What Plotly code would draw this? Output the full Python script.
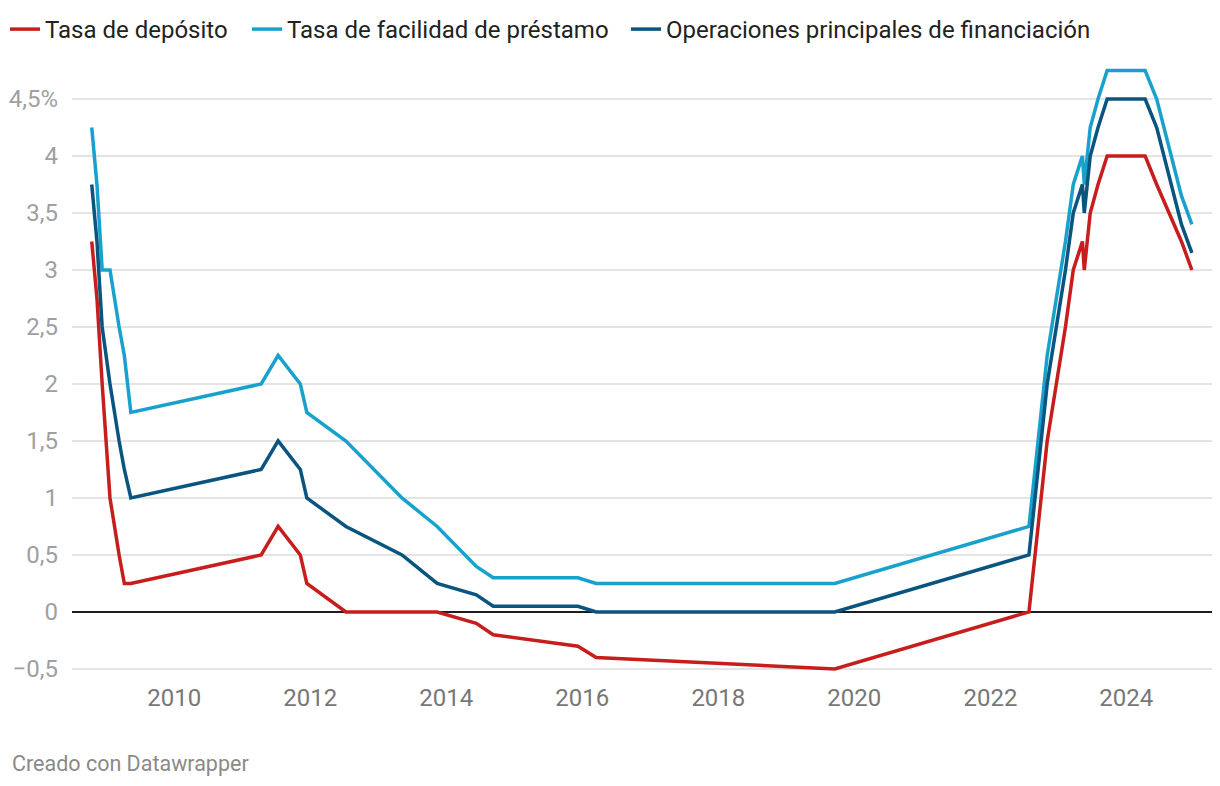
import plotly.graph_objects as go

dates = [
    "2008-10-15", "2008-11-12", "2008-12-10", "2009-01-21", "2009-03-11",
    "2009-04-08", "2009-05-13", "2011-04-13", "2011-07-13", "2011-11-09",
    "2011-12-14", "2012-07-11", "2013-05-08", "2013-11-13", "2014-06-11",
    "2014-09-10", "2015-12-09", "2016-03-16", "2019-09-18", "2022-07-27",
    "2022-09-14", "2022-11-02", "2022-12-21", "2023-02-08", "2023-03-22",
    "2023-05-10", "2023-05-20", "2023-06-21", "2023-08-02", "2023-09-20",
    "2024-04-11", "2024-06-12", "2024-10-23", "2024-12-18",
]

tasa_deposito = [
    3.25, 2.75, 2.00, 1.00, 0.50,
    0.25, 0.25, 0.50, 0.75, 0.50,
    0.25, 0.00, 0.00, 0.00, -0.10,
    -0.20, -0.30, -0.40, -0.50, 0.00,
    0.75, 1.50, 2.00, 2.50, 3.00,
    3.25, 3.00, 3.50, 3.75, 4.00,
    4.00, 3.75, 3.25, 3.00,
]

tasa_prestamo = [
    4.25, 3.75, 3.00, 3.00, 2.50,
    2.25, 1.75, 2.00, 2.25, 2.00,
    1.75, 1.50, 1.00, 0.75, 0.40,
    0.30, 0.30, 0.25, 0.25, 0.75,
    1.50, 2.25, 2.75, 3.25, 3.75,
    4.00, 3.75, 4.25, 4.50, 4.75,
    4.75, 4.50, 3.65, 3.40,
]

operaciones_principales = [
    3.75, 3.25, 2.50, 2.00, 1.50,
    1.25, 1.00, 1.25, 1.50, 1.25,
    1.00, 0.75, 0.50, 0.25, 0.15,
    0.05, 0.05, 0.00, 0.00, 0.50,
    1.25, 2.00, 2.50, 3.00, 3.50,
    3.75, 3.50, 4.00, 4.25, 4.50,
    4.50, 4.25, 3.40, 3.15,
]

series_names = ["Tasa de depósito", "Tasa de facilidad de préstamo",
                "Operaciones principales de financiación"]
series_colors = ["#c71e1d", "#18a1cd", "#09557f"]

y_tickvals = [-0.5, 0, 0.5, 1, 1.5, 2, 2.5, 3, 3.5, 4, 4.5]
y_ticktext = ["−0,5", "0", "0,5", "1", "1,5", "2", "2,5", "3", "3,5", "4", "4,5%"]
x_tickvals = ["2010-01-01", "2012-01-01", "2014-01-01", "2016-01-01",
              "2018-01-01", "2020-01-01", "2022-01-01", "2024-01-01"]
x_ticktext = ["2010", "2012", "2014", "2016", "2018", "2020", "2022", "2024"]

FONT = "Roboto, 'Noto Sans', sans-serif"

W, H = 1220, 786
L, R, T, B = 72, 8, 60, 111

legend_ids = ["legend", "legend2", "legend3"]
legend_x_px = [5, 247, 626]

fig = go.Figure()
for name, vals, col, lid in zip(series_names,
                                [tasa_deposito, tasa_prestamo, operaciones_principales],
                                series_colors, legend_ids):
    fig.add_trace(go.Scatter(
        x=dates, y=vals, name=name, mode="lines",
        line=dict(color=col, width=3.5),
        hoverinfo="x+y+name",
        legend=lid,
    ))

legend_common = dict(
    orientation="h", xref="container", yref="container",
    y=1 - 7 / H, xanchor="left", yanchor="top",
    font=dict(size=24, color="#222222", family=FONT),
    itemwidth=30, bgcolor="rgba(0,0,0,0)",
)
legend_layout = {
    lid: dict(x=px / W, **legend_common) for lid, px in zip(legend_ids, legend_x_px)
}

fig.update_layout(
    width=W, height=H,
    margin=dict(l=L, r=R, t=T, b=B),
    paper_bgcolor="white", plot_bgcolor="white",
    font=dict(family=FONT, color="#333333", size=24),
    showlegend=True,
    xaxis=dict(
        type="date",
        range=["2008-07-01", "2025-04-05"],
        tickvals=x_tickvals, ticktext=x_ticktext,
        showgrid=False, zeroline=False, showline=False,
        ticks="", ticklabelstandoff=6,
        tickfont=dict(size=24, color="#777777", family=FONT),
        fixedrange=True,
    ),
    yaxis=dict(
        range=[-0.553, 4.842],
        tickvals=y_tickvals, ticktext=y_ticktext,
        showgrid=True, gridcolor="#e4e4e4", gridwidth=1.5,
        zeroline=True, zerolinecolor="#1d1d1d", zerolinewidth=2,
        showline=False, ticks="", ticklabelstandoff=13,
        tickfont=dict(size=24, color="#a0a0a0", family=FONT),
        fixedrange=True,
    ),
    annotations=[dict(
        text="Creado con Datawrapper",
        xref="paper", yref="paper",
        x=(10 - L) / (W - L - R), y=(H - B - 763) / (H - T - B),
        xanchor="left", yanchor="middle", showarrow=False,
        font=dict(size=21.5, color="#8a8a8a", family=FONT),
    )],
    **legend_layout,
)

fig.write_html(
    "out.html",
    config={"displayModeBar": False},
    post_script="document.body.style.margin='0';document.body.style.padding='0';",
)
